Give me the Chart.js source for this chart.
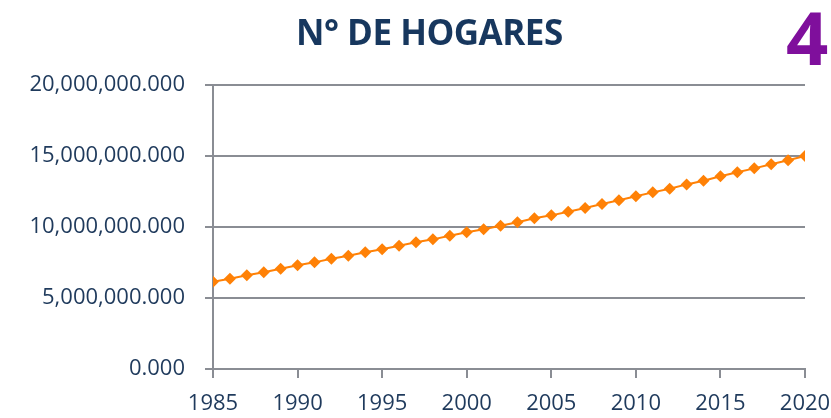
<!DOCTYPE html>
<html>
<head>
<meta charset="utf-8">
<script src="https://cdn.jsdelivr.net/npm/chart.js@4"></script>
<style>
  html, body { margin: 0; padding: 0; background: #fff; }
  #wrap { position: relative; width: 831px; height: 418px; }
  #title {
    position: absolute; left: 296px; top: 8px;
    font: bold 35px "Open Sans", sans-serif; color: #17375e;
    letter-spacing: -0.5px; white-space: nowrap;
  }
  #num {
    position: absolute; left: 786px; top: -14px;
    font: bold 74px "Open Sans", sans-serif; color: #7f0f9c;
  }
</style>
</head>
<body>
<div id="wrap">
  <canvas id="chart" width="831" height="418"></canvas>
  <div id="title">N° DE HOGARES</div>
  <div id="num">4</div>
</div>
<script>
var years = [1985, 1986, 1987, 1988, 1989, 1990, 1991, 1992, 1993, 1994,
  1995, 1996, 1997, 1998, 1999, 2000, 2001, 2002, 2003, 2004, 2005, 2006,
  2007, 2008, 2009, 2010, 2011, 2012, 2013, 2014, 2015, 2016, 2017, 2018,
  2019, 2020];

var hogares = [6150000, 6360000, 6600000, 6810000, 7060000, 7300000,
  7510000, 7770000, 7980000, 8220000, 8430000, 8680000, 8920000, 9130000,
  9390000, 9630000, 9840000, 10090000, 10330000, 10610000, 10820000,
  11080000, 11340000, 11620000, 11880000, 12160000, 12440000, 12700000,
  13000000, 13260000, 13570000, 13850000, 14130000, 14420000, 14700000,
  15000000];

var yTicks = [0, 5000000, 10000000, 15000000, 20000000];

var textColor = "#1f3a5c";
var gridColor = "#8a8d94";

new Chart(document.getElementById("chart"), {
  type: "line",
  data: {
    datasets: [
      {
        label: "Nº de hogares",
        data: years.map((y, i) => ({ x: y, y: hogares[i] })),
        borderColor: "#ff8106",
        backgroundColor: "#ff8106",
        borderWidth: 2,
        pointStyle: "rectRot",
        pointRadius: 6,
        pointBorderWidth: 0,
        tension: 0,
      },
    ],
  },
  options: {
    responsive: false,
    animation: false,
    layout: {
      padding: { top: 85, right: 26, left: 0, bottom: 0 },
    },
    plugins: {
      legend: { display: false },
      tooltip: { enabled: false },
    },
    scales: {
      x: {
        type: "linear",
        min: 1985,
        max: 2020,
        afterFit: (scale) => {
          scale.height = 49;
          // let the layout padding decide where the plot ends
          scale.paddingLeft = 0;
          scale.paddingRight = 0;
        },
        afterBuildTicks: (scale) => {
          scale.ticks = years.filter((y) => y % 5 === 0).map((v) => ({ value: v }));
        },
        grid: {
          drawOnChartArea: false,
          drawTicks: true,
          tickLength: 9,
          color: gridColor,
          lineWidth: 2,
        },
        border: { display: true, color: gridColor, width: 2 },
        ticks: {
          padding: 13,
          color: textColor,
          font: { family: "Open Sans", size: 22 },
          maxRotation: 0,
          callback: (v) => String(v),
        },
      },
      y: {
        min: 0,
        max: 20000000,
        afterFit: (scale) => { scale.width = 213; },
        afterBuildTicks: (scale) => {
          scale.ticks = yTicks.map((v) => ({ value: v }));
        },
        grid: {
          color: gridColor,
          lineWidth: 2,
          tickLength: 8,
        },
        border: { display: true, color: gridColor, width: 2 },
        ticks: {
          padding: 20,
          color: textColor,
          font: { family: "Open Sans", size: 22 },
          callback: (v) => v.toLocaleString("en-US") + ".000",
        },
      },
    },
  },
});
</script>
</body>
</html>
